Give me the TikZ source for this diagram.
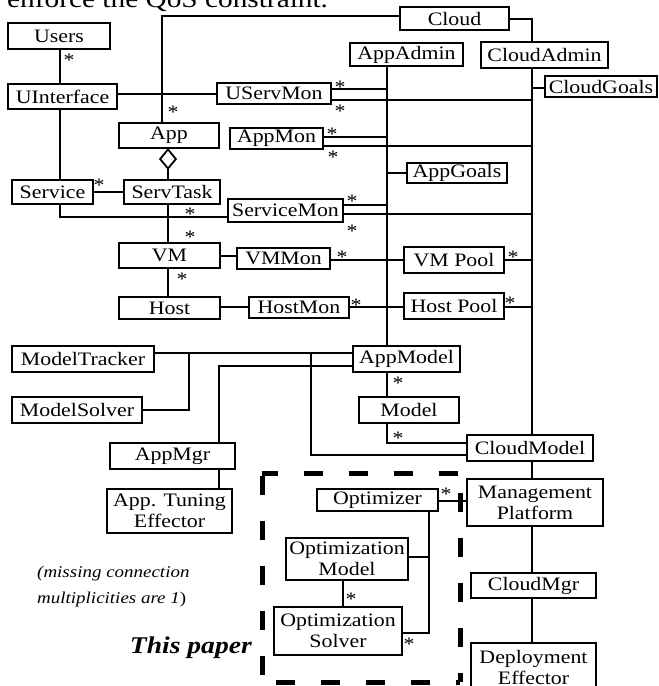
\documentclass[tikz,border=0pt]{standalone}
\usepackage{fontspec}
\setmainfont{Liberation Serif}[FakeStretch=1.15]
\usetikzlibrary{arrows.meta}
\tikzset{
  box/.style={draw, line width=2.3pt, inner sep=0pt, outer sep=0pt,
    font=\fontsize{19}{21}\selectfont, align=center},
  conn/.style={line width=1.8pt},
  mult/.style={inner sep=0pt, font=\fontsize{19}{21}\selectfont},
  dashb/.style={line width=5pt, line cap=square, dash pattern=on 19pt off 26pt},
}
\newcommand\ubox[6]{\node[box, minimum width={(#4-#2)*1pt}, minimum height={(#5-#3)*1pt}] (#1) at ({(#2+#4)/2},{(#3+#5)/2}) {#6};}
\newcommand\mstar[3]{\node[mult] (#1) at (#2,{#3+2.5}) {*};}
\begin{document}
\begin{tikzpicture}[x=1pt,y=-1pt]
\useasboundingbox (0,0) rectangle (659,686);
\node[anchor=base west, inner sep=0pt, font=\fontsize{25.5}{27}\selectfont] (toptext) at (7,7) {enforce the QoS constraint.};
% boxes
\ubox{users}{8}{23}{110}{49}{Users}
\ubox{uinterface}{8}{84}{117}{109}{UInterface}
\ubox{userv}{217}{83}{331}{104}{UServMon}
\ubox{cloud}{400}{7}{509}{30}{Cloud}
\ubox{appadmin}{350}{43}{463}{66}{AppAdmin}
\ubox{cloudadmin}{481}{42}{608}{68}{CloudAdmin}
\ubox{cloudgoals}{545}{76}{657}{97}{CloudGoals}
\ubox{app}{119}{123}{219}{148}{App}
\ubox{appmon}{230}{128}{323}{149}{AppMon}
\ubox{appgoals}{407}{163}{507}{183}{AppGoals}
\ubox{service}{12}{180}{93}{204}{Service}
\ubox{servtask}{124}{180}{220}{204}{ServTask}
\ubox{servmon}{228}{199}{343}{222}{ServiceMon}
\ubox{vm}{119}{243}{220}{268}{VM}
\ubox{vmmon}{237}{248}{330}{269}{VMMon}
\ubox{vmpool}{404}{247}{504}{273}{VM Pool}
\ubox{host}{119}{297}{220}{319}{Host}
\ubox{hostmon}{249}{297}{349}{318}{HostMon}
\ubox{hostpool}{404}{293}{504}{319}{Host Pool}
\ubox{mtracker}{12}{346}{154}{372}{ModelTracker}
\ubox{msolver}{12}{397}{142}{423}{ModelSolver}
\ubox{appmodel}{353}{346}{460}{372}{AppModel}
\ubox{model}{359}{397}{459}{423}{Model}
\ubox{cloudmodel}{467}{435}{593}{461}{CloudModel}
\ubox{appmgr}{110}{443}{235}{469}{AppMgr}
\ubox{ate}{107}{489}{232}{533}{App. Tuning\\Effector}
\ubox{optimizer}{317}{489}{438}{511}{Optimizer}
\ubox{mp}{467}{479}{603}{526}{Management\\Platform}
\ubox{omodel}{286}{538}{408}{580}{Optimization\\Model}
\ubox{osolver}{274}{607}{402}{655}{Optimization\\Solver}
\ubox{cloudmgr}{471}{573}{596}{598}{CloudMgr}
\ubox{deploy}{471}{643}{596}{692}{Deployment\\Effector}
% bus coordinates
\coordinate (bL) at (60,0);
\coordinate (bA) at (387,0);
\coordinate (bC) at (532,0);
\coordinate (bT) at (162,0);
\coordinate (bS) at (168,0);
\coordinate (bM) at (219,0);
\coordinate (bO) at (429,0);
\coordinate (bX) at (311,0);
\coordinate (bY) at (189,0);
\coordinate (bZ) at (343,0);
% connectors
\draw[conn] (users.south -| bL) -- (uinterface.north -| bL);
\draw[conn] (uinterface.south -| bL) -- (service.north -| bL);
\draw[conn] (service.south -| bL) |- (servmon.west |- 0,217);
\draw[conn] (uinterface.east |- 0,94) -- (userv.west |- 0,94);
\draw[conn] (app.north -| bT) |- (cloud.west |- 0,16);
\draw[conn] (cloud.east |- 0,19) -| (cloudadmin.north -| bC);
\draw[conn] (service) -- (servtask);
\draw[conn, {Diamond[open, length=22pt, width=18pt]}-] (app.south -| bS) -- (servtask.north -| bS);
\draw[conn] (servtask.south -| bS) -- (vm.north -| bS);
\draw[conn] (vm.south -| bS) -- (host.north -| bS);
\draw[conn] (vm.east |- 0,256) -- (vmmon.west |- 0,256);
\draw[conn] (vmmon.east |- 0,260) -- (vmpool.west |- 0,260);
\draw[conn] (vmpool.east |- 0,260) -- (bC |- 0,260);
\draw[conn] (host.east |- 0,307) -- (hostmon.west |- 0,307);
\draw[conn] (hostmon.east |- 0,307) -- (hostpool.west |- 0,307);
\draw[conn] (hostpool.east |- 0,307) -- (bC |- 0,307);
\draw[conn] (userv.east |- 0,89) -- (bA |- 0,89);
\draw[conn] (userv.east |- 0,100) -- (bC |- 0,100);
\draw[conn] (appmon.east |- 0,137) -- (bA |- 0,137);
\draw[conn] (appmon.east |- 0,146) -- (bC |- 0,146);
\draw[conn] (servmon.east |- 0,205) -- (bA |- 0,205);
\draw[conn] (servmon.east |- 0,214) -- (bC |- 0,214);
\draw[conn] (appadmin.south -| bA) -- (appmodel.north -| bA);
\draw[conn] (bA |- appgoals.west) -- (appgoals.west);
\draw[conn] (cloudadmin.south -| bC) -- (cloudmodel.north -| bC);
\draw[conn] (bC |- 0,88) -- (cloudgoals.west |- 0,88);
\draw[conn] (mtracker.east |- 0,353) -- (appmodel.west |- 0,353);
\draw[conn] (msolver.east |- 0,410) -| (bY |- 0,353);
\draw[conn] (appmgr.north -| bM) |- (appmodel.west |- 0,366);
\draw[conn] (bX |- 0,353) |- (cloudmodel.west |- 0,455);
\draw[conn] (appmodel.south -| bA) -- (model.north -| bA);
\draw[conn] (model.south -| bA) |- (cloudmodel.west |- 0,443);
\draw[conn] (cloudmodel.south -| bC) -- (mp.north -| bC);
\draw[conn] (mp.south -| bC) -- (cloudmgr.north -| bC);
\draw[conn] (cloudmgr.south -| bC) -- (deploy.north -| bC);
\draw[conn] (appmgr.south -| bM) -- (ate.north -| bM);
\draw[conn] (optimizer.east |- 0,501) -- (mp.west |- 0,501);
\draw[conn] (optimizer.south -| bO) |- (osolver.east |- 0,633);
\draw[conn] (omodel.east |- 0,557) -- (bO |- 0,557);
\draw[conn] (omodel.south -| bZ) -- (osolver.north -| bZ);
% multiplicities
\mstar{s1}{69}{58}
\mstar{s2}{173}{110}
\mstar{s3}{99}{183}
\mstar{s4}{190}{212}
\mstar{s5}{190}{235}
\mstar{s6}{182}{277}
\mstar{s7}{340}{85}
\mstar{s8}{340}{109}
\mstar{s9}{332}{132}
\mstar{s10}{333}{155}
\mstar{s11}{352}{199}
\mstar{s12}{352}{229}
\mstar{s13}{342}{255}
\mstar{s14}{513}{255}
\mstar{s15}{356}{303}
\mstar{s16}{510}{301}
\mstar{s17}{398}{381}
\mstar{s18}{398}{436}
\mstar{s19}{446}{492}
\mstar{s20}{351}{597}
\mstar{s21}{409}{642}
% dashed frame
\coordinate (d1) at (262,473);
\coordinate (d2) at (460,473);
\coordinate (d3) at (460,682);
\coordinate (d4) at (262,682);
\draw[dashb, dash phase=42.5pt] (d1) -- (d4);
\draw[dashb, dash phase=3.5pt] (d1) -- (d2);
\draw[dashb, dash phase=25.5pt] (d2) -- (d3);
\draw[dashb, dash phase=14.5pt] (d3) -- (d4);
% notes
\node[anchor=base west, inner sep=0pt, font=\fontsize{16.5}{20}\selectfont\itshape] (note1) at (37,577) {(missing connection};
\node[anchor=base west, inner sep=0pt, font=\fontsize{16.5}{20}\selectfont] (note2) at (37,603) {\itshape multiplicities are 1\upshape)};
\node[anchor=base east, inner sep=0pt, font=\fontsize{24}{26}\selectfont\bfseries\itshape] (thispaper) at (252,653) {This paper};
\end{tikzpicture}
\end{document}
